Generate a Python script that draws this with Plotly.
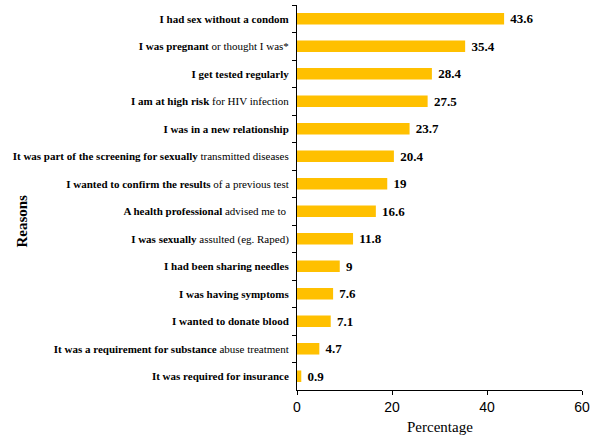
"""Motivos para fazer o teste de HIV - barras horizontais."""

import plotly.graph_objects as go

reasons = [
    "<b>I had sex without a condom</b>",
    "<b>I was pregnant</b> or thought I was*",
    "<b>I get tested regularly</b>",
    "<b>I am at high risk</b> for HIV infection",
    "<b>I was in a new relationship</b>",
    "<b>It was part of the screening for sexually</b> transmitted diseases",
    "<b>I wanted to confirm the results</b> of a previous test",
    "<b>A health professional</b> advised me to ",
    "<b>I was sexually</b> assulted (eg. Raped)",
    "<b>I had been sharing needles</b>",
    "<b>I was having symptoms</b>",
    "<b>I wanted to donate blood</b>",
    "<b>It was a requirement for substance</b> abuse treatment",
    "<b>It was required for insurance</b>",
]
percentages = [43.6, 35.4, 28.4, 27.5, 23.7, 20.4, 19, 16.6, 11.8, 9, 7.6, 7.1, 4.7, 0.9]
x_ticks = [0, 20, 40, 60]

SERIF = "Liberation Serif"
SANS = "Liberation Sans"

fig = go.Figure(
    go.Bar(
        x=percentages,
        y=reasons,
        orientation="h",
        marker_color="#FFC000",
        marker_line_width=0,
        text=[str(v) for v in percentages],
        texttemplate="\u00a0<b>%{text}</b>",
        textposition="outside",
        constraintext="none",
        textfont={"family": SERIF, "size": 13, "color": "#000000"},
        cliponaxis=False,
    )
)

fig.update_layout(
    width=600,
    height=440,
    margin={"l": 297, "r": 18, "t": 5, "b": 50, "autoexpand": False},
    plot_bgcolor="#ffffff",
    paper_bgcolor="#ffffff",
    bargap=0.58,
    showlegend=False,
    xaxis={
        "range": [0, 60],
        "tickvals": x_ticks,
        "automargin": False,
        "showgrid": False,
        "zeroline": False,
        "showline": True,
        "linecolor": "#000000",
        "linewidth": 1,
        "ticks": "outside",
        "ticklen": 4,
        "tickcolor": "#000000",
        "tickfont": {"family": SANS, "size": 14, "color": "#000000"},
    },
    yaxis={
        "autorange": "reversed",
        "automargin": False,
        "showgrid": False,
        "showline": True,
        "linecolor": "#000000",
        "linewidth": 1,
        "ticks": "outside",
        "tickson": "boundaries",
        "ticklen": 4,
        "tickcolor": "#000000",
        "ticklabelstandoff": 5,
        "tickfont": {"family": SERIF, "size": 11, "color": "#000000"},
    },
    annotations=[
        {
            "text": "Percentage",
            "xref": "paper",
            "yref": "paper",
            "x": 0.5,
            "y": -0.07,
            "yanchor": "top",
            "showarrow": False,
            "font": {"family": SERIF, "size": 15, "color": "#000000"},
        },
        {
            "text": "<b>Reasons</b>",
            "xref": "paper",
            "yref": "paper",
            "x": -0.965,
            "y": 0.44,
            "xanchor": "center",
            "textangle": -90,
            "showarrow": False,
            "font": {"family": SERIF, "size": 15, "color": "#000000"},
        },
    ],
)

# tira a margem padrão do body para o gráfico começar no canto da página
fig.write_html(
    "out.html",
    config={"displayModeBar": False},
    post_script="document.body.style.margin='0';",
)
